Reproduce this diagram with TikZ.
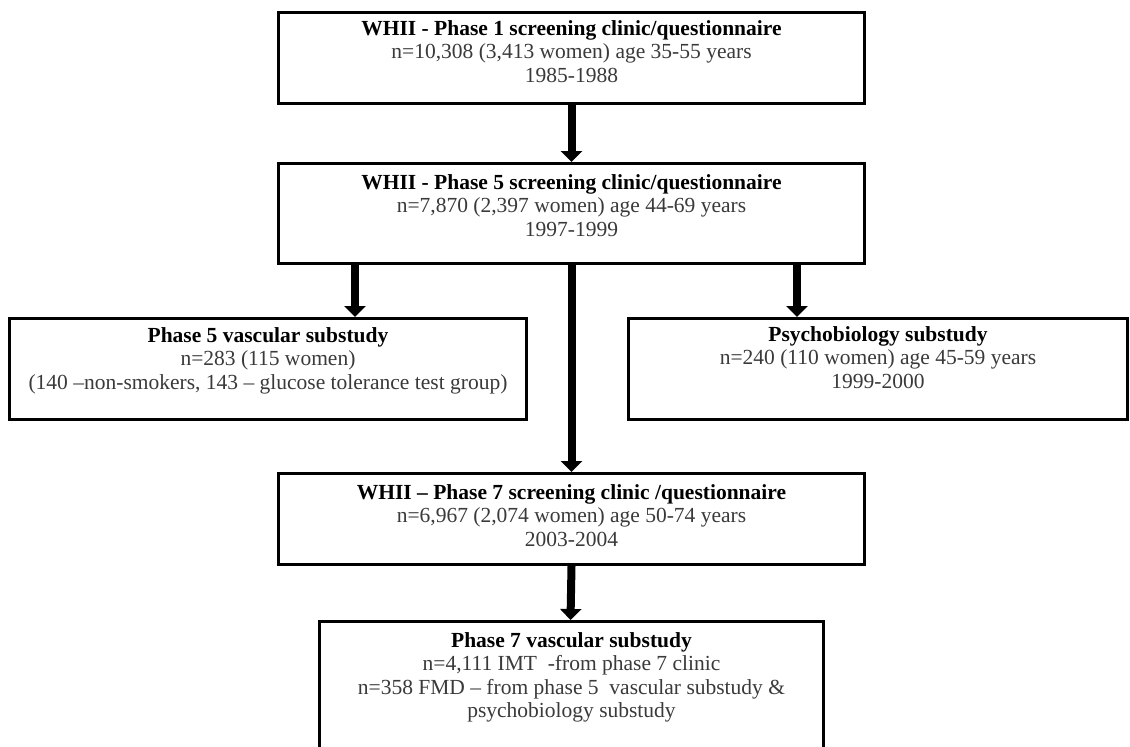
\documentclass[tikz,border=0pt]{standalone}
\usepackage{fontspec}
\setmainfont{Liberation Serif}
\usetikzlibrary{arrows.meta}
\definecolor{bodytext}{HTML}{3A3A3A}
\tikzset{
  box/.style={draw=black, line width=3pt, fill=white, inner sep=0pt, anchor=north west},
  txt/.style={anchor=north, align=center, inner sep=0pt, font=\fontsize{21.5}{23.5}\selectfont, text=bodytext},
  arr/.style={line width=8pt, -{Triangle[width=21pt,length=11pt]}},
}
\newcommand{\ttl}[1]{\textbf{\textcolor{black}{#1}}}
\begin{document}
\begin{tikzpicture}[x=1pt,y=-1pt]
\useasboundingbox (0,0) rectangle (1130,747);
% boxes
\node[box, minimum width=586pt, minimum height=91pt] (b1) at (277,11) {};
\node[box, minimum width=586pt, minimum height=100pt] (b2) at (277,162) {};
\node[box, minimum width=517pt, minimum height=101pt] (bl) at (8,317) {};
\node[box, minimum width=499pt, minimum height=101pt] (br) at (627,317) {};
\node[box, minimum width=586pt, minimum height=91pt] (b3) at (277,472) {};
\node[box, minimum width=504pt, minimum height=127pt] (b4) at (318,620) {};
% texts
\node[txt] (t1) at ([yshift=-9pt]b1.north) {\ttl{WHII - Phase 1 screening clinic/questionnaire}\\n=10,308 (3,413 women) age 35-55 years\\1985-1988};
\node[txt] (t2) at ([yshift=-12pt]b2.north) {\ttl{WHII - Phase 5 screening clinic/questionnaire}\\n=7,870 (2,397 women) age 44-69 years\\1997-1999};
\node[txt] (tl) at ([yshift=-10pt]bl.north) {\ttl{Phase 5 vascular substudy}\\n=283 (115 women)\\(140 --non-smokers, 143 -- glucose tolerance test group)};
\node[txt] (tr) at ([yshift=-9pt]br.north) {\ttl{Psychobiology substudy}\\n=240 (110 women) age 45-59 years\\1999-2000};
\node[txt] (t3) at ([yshift=-12pt]b3.north) {\ttl{WHII -- Phase 7 screening clinic /questionnaire}\\n=6,967 (2,074 women) age 50-74 years\\2003-2004};
\node[txt] (t4) at ([yshift=-12pt]b4.north) {\ttl{Phase 7 vascular substudy}\\n=4,111 IMT \ -from phase 7 clinic\\n=358 FMD -- from phase 5 \ vascular substudy \&\\psychobiology substudy};
% arrows
\coordinate (xl) at (355,0);
\coordinate (xr) at (797,0);
\draw[arr] (b1.south) -- (b2.north);
\draw[arr] (b2.south -| xl) -- (bl.north -| xl);
\draw[arr] (b2.south -| xr) -- (br.north -| xr);
\draw[arr] (b2.south) -- (b3.north);
\draw[arr] (b3.south) -- ([xshift=-1pt]b4.north);
\end{tikzpicture}
\end{document}
